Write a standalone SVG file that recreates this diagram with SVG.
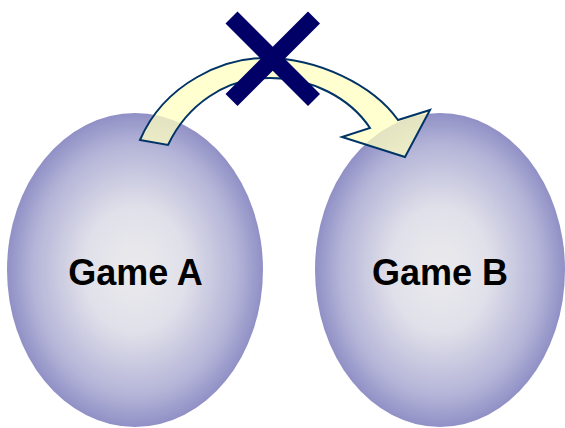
<svg xmlns="http://www.w3.org/2000/svg" width="565" height="428" viewBox="0 0 565 428">
<defs>
<radialGradient id="g" cx="50%" cy="50%" r="50%">
<stop offset="0" stop-color="#ebebed"/>
<stop offset="0.4" stop-color="#e0e0ea"/>
<stop offset="0.8" stop-color="#b4b4d8"/>
<stop offset="1" stop-color="#9090c6"/>
</radialGradient>
<style>
.node{fill:url(#g);}
.lbl{font-family:"Liberation Sans",Arial,sans-serif;font-weight:bold;font-size:36px;fill:#000;text-anchor:middle;}
.arrow{fill:#ffffc0;fill-opacity:0.75;stroke:#003366;stroke-width:2;stroke-linejoin:miter;}
.x{stroke:#000066;stroke-width:17;}
</style>
</defs>
<g id="gameA"><ellipse class="node" cx="135" cy="270" rx="128" ry="157"/><text class="lbl" x="135.5" y="285">Game A</text></g>
<g id="gameB"><ellipse class="node" cx="440" cy="270" rx="125" ry="157"/><text class="lbl" x="440" y="285">Game B</text></g>
<g id="connectors">
<path class="arrow" d="M140,140 C165,82 225,58 265,58 C318,58 373,85 398,120 L430,110 L405,157 L342,137 L370,128 C350,98 312,78 270,78 C225,78 187,105 168,145 Z"/>
</g>
<g id="cross">
<line class="x" x1="231.5" y1="17.5" x2="314" y2="100"/>
<line class="x" x1="314" y1="17.5" x2="231.5" y2="100"/>
</g>
</svg>
